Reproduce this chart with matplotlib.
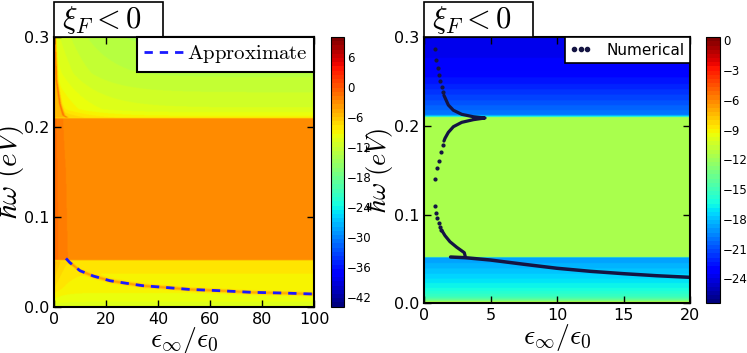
import numpy as np
import matplotlib
matplotlib.use('Agg')
import matplotlib.pyplot as plt
from matplotlib.patches import Rectangle

plt.rcParams['mathtext.fontset'] = 'cm'
plt.rcParams['xtick.direction'] = 'in'
plt.rcParams['ytick.direction'] = 'in'

# ---- left panel: band profile of the background (value vs hbar*omega)
left_y_nodes = [0.0, 0.005, 0.02, 0.051, 0.0525, 0.15, 0.2095, 0.2105, 0.22, 0.26, 0.3]
left_vals = [-11.0, -10.3, -9.0, -8.2, -3.0, -3.1, -3.3, -9.0, -11.0, -13.0, -14.0]

# resonance near the upper band edge (left side)
top_res_y = [0.2105, 0.213, 0.226, 0.252, 0.2995]
top_res_x = [5.0, 3.6, 2.3, 1.0, 0.4]

# approximate curve
approx_x = [4.6, 6.1, 10.0, 15.1, 21.5, 27.9, 34.3, 40.7, 47.1, 51.6, 63.8, 75.9, 88.1, 99.6]
approx_y = [0.0537, 0.049, 0.040, 0.0341, 0.0289, 0.026, 0.0233, 0.0219, 0.0204,
            0.0193, 0.0178, 0.016, 0.0152, 0.0141]

# ---- right panel: band profile
right_y_nodes = [0.0, 0.002, 0.006, 0.015, 0.03, 0.051, 0.052, 0.2095, 0.2105,
                 0.2125, 0.225, 0.25, 0.27, 0.3]
right_vals = [-9.0, -13.0, -15.0, -16.3, -17.5, -19.0, -11.5, -11.5, -16.5,
              -19.8, -20.8, -22.5, -23.5, -23.8]

# numerical roots: sparse dots
dots_x = [0.80, 0.93, 1.03, 1.13, 1.23, 1.33, 1.45,
          1.40, 1.25, 1.13, 0.95, 0.80,
          0.80, 0.90, 1.00, 1.10, 1.20, 1.30]
dots_y = [0.2865, 0.2748, 0.2654, 0.2575, 0.2507, 0.2443, 0.238,
          0.1785, 0.1710, 0.1605, 0.1522, 0.1402,
          0.1101, 0.1015, 0.0959, 0.0909, 0.0864, 0.0825]
# numerical roots: dense parts
cusp_x = [1.50, 1.58, 1.83, 2.21, 2.84, 3.71, 4.59, 3.71, 2.84, 2.21, 1.83, 1.58, 1.50]
cusp_y = [0.2345, 0.2319, 0.2236, 0.2177, 0.2131, 0.2104, 0.209, 0.2071, 0.2041,
          0.1992, 0.1928, 0.1861, 0.183]
low_x = [1.35, 1.58, 1.95, 2.46, 3.03, 3.1]
low_y = [0.0819, 0.0763, 0.0695, 0.0632, 0.0571, 0.0530]
line_x = [2.0, 3.13, 5.0, 7.52, 10.0, 12.5, 15.0, 17.5, 20.0]
line_y = [0.0522, 0.0514, 0.0488, 0.044, 0.0395, 0.0361, 0.0334, 0.0311, 0.0293]

W, H = 747, 353
fig = plt.figure(figsize=(W / 100, H / 100), dpi=100)


def title_box(ax, wfrac, hfrac):
    ax.add_patch(Rectangle((0, 1.0), wfrac, hfrac, transform=ax.transAxes,
                           fc='w', ec='k', lw=1.2, clip_on=False, zorder=5))
    ax.text(0.03, 1.0 + hfrac * 0.5, r'$\xi_F<0$', transform=ax.transAxes,
            fontsize=22, ha='left', va='center', zorder=6)


# ------------- left panel
ax1 = fig.add_axes([54 / W, 1 - 306.7 / H, 260.3 / W, 269.7 / H])
cax1 = fig.add_axes([331 / W, 1 - 306.7 / H, 13 / W, 269.7 / H])

xs = np.linspace(0, 100, 500)
ys = np.linspace(0, 0.3, 600)
X, Y = np.meshgrid(xs, ys)
F1 = np.interp(Y, left_y_nodes, left_vals)
mid = (Y > 0.0525) & (Y < 0.2095)
top = Y >= 0.2105
bot = Y <= 0.051
F1 = F1 + mid * 2.0 * np.exp(-X / 3.0)
F1 = F1 + top * 3.5 * np.exp(-X / 12.0)
rx = np.interp(Y, top_res_y, top_res_x)
F1 = np.where(top & (X < rx), -6.0, F1)
F1 = F1 + top * 5.0 * np.exp(-((X - rx) / 0.5) ** 2)
yc = np.interp(X, approx_x, approx_y)
F1 = F1 + bot * (X > 3.5) * 5.0 * np.exp(-((Y - yc) / 0.0018) ** 2)
F1 = F1 + bot * 3.0 * np.exp(-X / 3.0) * (Y / 0.05)

cmap1 = plt.get_cmap('jet', 64)
im1 = ax1.imshow(F1, origin='lower', extent=[0, 100, 0, 0.3], aspect='auto',
                 cmap=cmap1, vmin=-44, vmax=10, interpolation='bilinear')
ax1.plot(approx_x, approx_y, color='#1a1aff', lw=2, dashes=(3, 2.5), label=r'$\mathrm{Approximate}$')
ax1.set_xlim(0, 100)
ax1.set_ylim(0, 0.3)
ax1.set_xticks([0, 20, 40, 60, 80, 100])
ax1.set_yticks([0.0, 0.1, 0.2, 0.3])
ax1.tick_params(labelsize=11.5, top=True, right=True, length=5, width=1)
ax1.set_xlabel(r'$\epsilon_{\infty}/\epsilon_0$', fontsize=20, labelpad=-1)
ax1.set_ylabel(r'$\hbar\omega\ (eV)$', fontsize=21, labelpad=-2)
for s in ax1.spines.values():
    s.set_linewidth(1.5)
leg1 = ax1.legend(loc='upper right', fontsize=15, borderaxespad=0, fancybox=False,
                  handlelength=1.9, handletextpad=0.2, borderpad=0.3)
leg1.get_frame().set_edgecolor('k')
leg1.get_frame().set_linewidth(1.5)
leg1.get_frame().set_alpha(1)
title_box(ax1, 109 / 260.3, 35 / 269.7)
cb1 = fig.colorbar(im1, cax=cax1, ticks=[-42, -36, -30, -24, -18, -12, -6, 0, 6])
cb1.ax.tick_params(labelsize=8.5, length=0, pad=2)

# ------------- right panel
ax2 = fig.add_axes([424 / W, 1 - 303.3 / H, 266 / W, 266 / H])
cax2 = fig.add_axes([706 / W, 1 - 303.3 / H, 14 / W, 266 / H])

xs2 = np.linspace(0, 20, 400)
X2, Y2 = np.meshgrid(xs2, ys)
F2 = np.interp(Y2, right_y_nodes, right_vals)
cmap2 = plt.get_cmap('jet', 64)
im2 = ax2.imshow(F2, origin='lower', extent=[0, 20, 0, 0.3], aspect='auto',
                 cmap=cmap2, vmin=-26.5, vmax=0.3, interpolation='bilinear')
dark = '#141442'
ax2.plot(cusp_x, cusp_y, color=dark, lw=2.3, solid_capstyle='round')
ax2.plot(low_x, low_y, color=dark, lw=2.3, solid_capstyle='round')
ax2.plot(line_x, line_y, color=dark, lw=2.5, solid_capstyle='round')
ax2.plot(dots_x, dots_y, '.', color=dark, ms=4, label='Numerical')
ax2.set_xlim(0, 20)
ax2.set_ylim(0, 0.3)
ax2.set_xticks([0, 5, 10, 15, 20])
ax2.set_yticks([0.0, 0.1, 0.2, 0.3])
ax2.tick_params(labelsize=11.5, top=True, right=True, length=5, width=1)
ax2.set_xlabel(r'$\epsilon_{\infty}/\epsilon_0$', fontsize=20, labelpad=-1)
ax2.set_ylabel(r'$\hbar\omega\ (eV)$', fontsize=19, labelpad=-1)
for s in ax2.spines.values():
    s.set_linewidth(1.5)
leg2 = ax2.legend(loc='upper right', fontsize=11, borderaxespad=0, fancybox=False,
                  numpoints=3, markerscale=1.5, handlelength=1.4, handletextpad=1.0,
                  borderpad=0.35)
leg2.get_frame().set_edgecolor('k')
leg2.get_frame().set_linewidth(1.2)
leg2.get_frame().set_alpha(1)
title_box(ax2, 109 / 266, 35 / 266)
cb2 = fig.colorbar(im2, cax=cax2, ticks=[-24, -21, -18, -15, -12, -9, -6, -3, 0])
cb2.ax.tick_params(labelsize=8.5, length=0, pad=2)

fig.savefig('out.png', dpi=100)
